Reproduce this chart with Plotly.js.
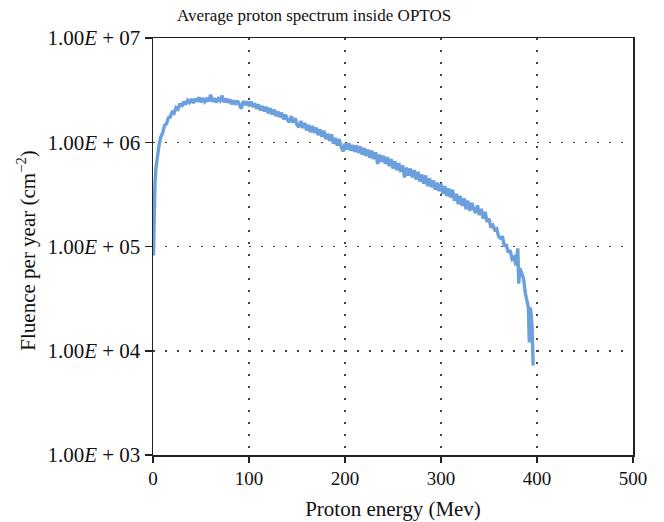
<!DOCTYPE html>
<html>
<head>
<meta charset="utf-8">
<script src="https://cdn.plot.ly/plotly-3.0.1.min.js"></script>
<style>html,body{margin:0;padding:0;background:#fff;}#chart{width:664px;height:522px;}</style>
</head>
<body>
<div id="chart"></div>
<script>
// Proton energy (MeV)
const energy = [0.5,1,2,3,4,5,6,8,10,12,14,16,18,20,22,24,26,28,30,32,34,36,38,40,42,44,46,48,50,52,54,56,58,60,62,64,66,68,70,72,74,76,78,80,82,84,86,88,90,92,94,96,98,100,102,104,106,108,110,112,114,116,118,120,122,124,126,128,130,132,134,136,138,140,142,144,146,148,150,152,154,156,158,160,162,164,166,168,170,172,174,176,178,180,182,184,186,188,190,192,194,196,198,200,202,204,206,208,210,212,214,216,218,220,222,224,226,228,230,232,234,236,238,240,242,244,246,248,250,252,254,256,258,260,262,264,266,268,270,272,274,276,278,280,282,284,286,288,290,292,294,296,298,300,302,304,306,308,310,312,314,316,318,320,322,324,326,328,330,332,334,336,338,340,342,344,346,348,350,352,354,356,358,360,362,364,366,368,370,372,374,376,378,380,381,382,384,386,388,390,391,392,393,394,395,396];
// Fluence per year (cm^-2)
const fluence = [
  8.2e4,1.6e5,3.9e5,5.6e5,6.8e5,8.0e5,9.0e5,                     // 0.5 - 6
  1.12e6,1.22e6,1.45e6,1.5e6,1.72e6,1.75e6,1.95e6,1.9e6,2.15e6,2.08e6, // 8 - 26
  2.35e6,2.2e6,2.45e6,2.3e6,2.52e6,2.4e6,2.6e6,2.38e6,2.62e6,2.45e6,   // 28 - 46
  2.7e6,2.42e6,2.65e6,2.45e6,2.6e6,2.48e6,2.85e6,2.45e6,2.65e6,2.4e6,  // 48 - 66
  2.62e6,2.5e6,2.8e6,2.42e6,2.62e6,2.4e6,2.58e6,2.32e6,2.52e6,2.3e6,   // 68 - 86
  2.5e6,2.28e6,2.1e6,2.48e6,2.28e6,2.46e6,2.22e6,2.45e6,2.18e6,2.36e6, // 88 - 106
  2.1e6,2.3e6,2.02e6,2.22e6,1.98e6,2.18e6,1.9e6,2.12e6,1.85e6,2.06e6,  // 108 - 126
  1.78e6,1.98e6,1.74e6,1.92e6,1.66e6,1.84e6,1.64e6,1.56e6,1.78e6,1.54e6, // 128 - 146
  1.7e6,1.47e6,1.4e6,1.6e6,1.37e6,1.53e6,1.3e6,1.47e6,1.25e6,1.43e6,   // 148 - 166
  1.23e6,1.38e6,1.17e6,1.33e6,1.13e6,1.29e6,1.07e6,1.21e6,1.03e6,1.19e6, // 168 - 186
  9.7e5,1.1e6,9.3e5,1.07e6,9.0e5,8.2e5,9.7e5,8.5e5,9.8e5,8.3e5,        // 188 - 206
  9.4e5,8.1e5,9.3e5,7.9e5,9.1e5,7.6e5,8.8e5,7.4e5,8.5e5,7.1e5,         // 208 - 226
  8.3e5,6.9e5,8.0e5,6.2e5,7.6e5,6.5e5,7.4e5,6.2e5,7.2e5,5.9e5,         // 228 - 246
  6.9e5,5.6e5,6.6e5,5.4e5,6.3e5,5.2e5,6.0e5,4.6e5,5.7e5,4.8e5,         // 248 - 266
  5.6e5,4.6e5,5.4e5,4.4e5,5.2e5,4.2e5,4.9e5,4.0e5,4.8e5,3.8e5,         // 268 - 286
  4.5e5,3.7e5,4.3e5,3.5e5,4.1e5,3.4e5,4.0e5,3.2e5,3.8e5,3.05e5,        // 288 - 306
  3.6e5,2.95e5,3.5e5,2.75e5,3.2e5,2.55e5,3.05e5,2.45e5,2.9e5,2.28e5,   // 308 - 326
  2.75e5,2.2e5,2.62e5,2.3e5,2.1e5,2.48e5,2.0e5,2.3e5,1.85e5,2.15e5,    // 328 - 346
  1.72e5,1.85e5,1.52e5,1.6e5,1.45e5,1.48e5,1.25e5,1.2e5,1.25e5,1.0e5,  // 348 - 366
  1.05e5,8.8e4,9.2e4,7.6e4,7.9e4,6.6e4,9.6e4,                          // 368 - 380
  4.4e4,6.2e4,5.6e4,4.9e4,3.5e4,2.9e4,                                 // 381 - 390
  2.6e4,1.2e4,2.6e4,2.2e4,1.6e4,7.2e3                                  // 391 - 396
];

const yTickVals = [1e3,1e4,1e5,1e6,1e7];
const yTickText = ["1.00<i>E</i> + 03","1.00<i>E</i> + 04","1.00<i>E</i> + 05","1.00<i>E</i> + 06","1.00<i>E</i> + 07"];
const xTickVals = [0,100,200,300,400,500];

const serif = "Liberation Serif, Times New Roman, serif";

const trace = {
  x: energy, y: fluence, type: 'scatter', mode: 'lines',
  line: {color: '#6ca0dc', width: 3.4},
  hoverinfo: 'skip'
};

const gridStyle = {showgrid: true, gridcolor: '#444', gridwidth: 1.5, griddash: '1.5px,10.5px'};

const layout = {
  width: 664, height: 522,
  margin: {l: 153, r: 31, t: 38, b: 67},
  paper_bgcolor: '#fff', plot_bgcolor: '#fff',
  showlegend: false,
  font: {family: serif, color: '#111', size: 19},
  title: {text: 'Average proton spectrum inside OPTOS', font: {family: serif, size: 17, color: '#111'},
          xref: 'container', x: 0.473, xanchor: 'center', yref: 'container', y: 0.971, yanchor: 'middle'},
  xaxis: Object.assign({
    range: [0, 500], tickvals: xTickVals, ticktext: xTickVals.map(String),
    showline: true, linecolor: '#222', linewidth: 1.5, mirror: true,
    ticks: 'outside', ticklen: 6, tickcolor: '#222', tickwidth: 1.5,
    zeroline: false,
    tickfont: {family: serif, size: 19, color: '#111'},
    title: {text: 'Proton energy (Mev)', font: {family: serif, size: 21, color: '#111'}, standoff: 13}
  }, gridStyle),
  yaxis: Object.assign({
    type: 'log', range: [3, 7], tickvals: yTickVals, ticktext: yTickText,
    showline: true, linecolor: '#222', linewidth: 1.5, mirror: true,
    ticks: 'outside', ticklen: 7, tickcolor: '#222', tickwidth: 1.5,
    zeroline: false,
    tickfont: {family: serif, size: 21, color: '#111'}
  }, gridStyle),
  annotations: [{
    text: 'Fluence per year (cm<sup>−2</sup>)', textangle: -90, showarrow: false,
    xref: 'paper', yref: 'paper', x: -0.2625, y: 0.49, xanchor: 'center', yanchor: 'middle',
    font: {family: serif, size: 21, color: '#111'}
  }]
};

Plotly.newPlot('chart', [trace], layout, {staticPlot: true, displayModeBar: false});
</script>
</body>
</html>
